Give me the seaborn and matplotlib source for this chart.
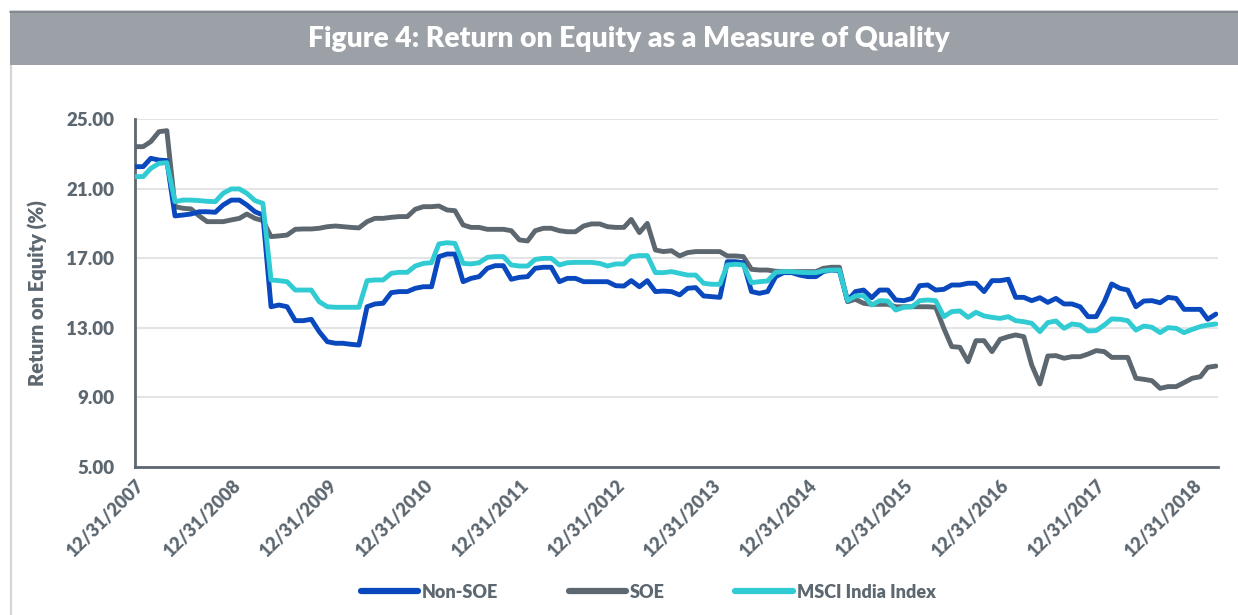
import numpy as np
import pandas as pd
import matplotlib
matplotlib.use("Agg")
import matplotlib.pyplot as plt
import matplotlib.dates as mdates
from matplotlib.patches import Rectangle
from matplotlib.lines import Line2D
import seaborn as sns

# Monthly return on equity (%), Dec 2007 - Mar 2019
dates = pd.date_range("2007-12-31", periods=136, freq="ME")

non_soe = [
    22.26, 22.26, 22.74, 22.64, 22.61, 19.43, 19.48, 19.54, 19.67, 19.67,
    19.64, 20.06, 20.34, 20.34, 20.06, 19.67, 19.48, 14.21, 14.31, 14.21,
    13.41, 13.41, 13.49, 12.78, 12.20, 12.11, 12.11, 12.05, 12.01, 14.21,
    14.37, 14.41, 15.02, 15.08, 15.08, 15.27, 15.36, 15.36, 17.09, 17.24,
    17.24, 15.65, 15.84, 15.94, 16.42, 16.57, 16.57, 15.79, 15.90, 15.94,
    16.42, 16.48, 16.48, 15.65, 15.84, 15.84, 15.65, 15.65, 15.65, 15.65,
    15.42, 15.40, 15.71, 15.36, 15.71, 15.08, 15.11, 15.08, 14.89, 15.27,
    15.31, 14.83, 14.79, 14.75, 16.80, 16.80, 16.74, 15.08, 14.98, 15.08,
    15.94, 16.17, 16.17, 16.03, 15.94, 15.94, 16.23, 16.32, 16.28, 14.56,
    15.08, 15.17, 14.73, 15.17, 15.17, 14.60, 14.56, 14.69, 15.42, 15.46,
    15.17, 15.21, 15.46, 15.46, 15.56, 15.56, 15.08, 15.71, 15.71, 15.79,
    14.75, 14.75, 14.56, 14.73, 14.46, 14.69, 14.37, 14.37, 14.21, 13.64,
    13.64, 14.50, 15.52, 15.27, 15.17, 14.21, 14.54, 14.56, 14.44, 14.75,
    14.69, 14.06, 14.06, 14.06, 13.49, 13.79,
]

soe = [
    23.41, 23.41, 23.70, 24.27, 24.33, 19.96, 19.87, 19.83, 19.43, 19.10,
    19.10, 19.10, 19.20, 19.29, 19.54, 19.29, 19.16, 18.24, 18.28, 18.33,
    18.66, 18.68, 18.68, 18.72, 18.81, 18.85, 18.81, 18.77, 18.74, 19.10,
    19.29, 19.29, 19.35, 19.39, 19.39, 19.81, 19.96, 19.96, 20.00, 19.77,
    19.73, 18.91, 18.77, 18.77, 18.66, 18.66, 18.66, 18.58, 18.05, 17.99,
    18.58, 18.72, 18.72, 18.58, 18.52, 18.52, 18.85, 18.97, 18.97, 18.81,
    18.77, 18.77, 19.23, 18.47, 19.00, 17.47, 17.38, 17.43, 17.13, 17.32,
    17.38, 17.38, 17.38, 17.38, 17.13, 17.13, 17.09, 16.36, 16.32, 16.32,
    16.25, 16.23, 16.23, 16.23, 16.23, 16.23, 16.42, 16.48, 16.48, 14.50,
    14.64, 14.41, 14.35, 14.35, 14.35, 14.21, 14.21, 14.21, 14.21, 14.21,
    14.18, 12.97, 11.92, 11.88, 11.05, 12.26, 12.26, 11.63, 12.34, 12.49,
    12.59, 12.49, 10.86, 9.77, 11.38, 11.40, 11.25, 11.34, 11.34, 11.49,
    11.69, 11.63, 11.30, 11.30, 11.30, 10.10, 10.04, 9.96, 9.52, 9.62,
    9.62, 9.85, 10.10, 10.19, 10.73, 10.80,
]

msci_india = [
    21.69, 21.69, 22.16, 22.45, 22.49, 20.25, 20.34, 20.34, 20.31, 20.27,
    20.25, 20.73, 20.98, 20.98, 20.73, 20.31, 20.15, 15.75, 15.71, 15.65,
    15.17, 15.17, 15.17, 14.50, 14.21, 14.18, 14.18, 14.18, 14.18, 15.71,
    15.75, 15.75, 16.13, 16.19, 16.19, 16.55, 16.70, 16.74, 17.82, 17.89,
    17.85, 16.70, 16.67, 16.74, 17.05, 17.09, 17.09, 16.61, 16.55, 16.55,
    16.93, 16.99, 16.99, 16.61, 16.74, 16.76, 16.76, 16.76, 16.70, 16.55,
    16.67, 16.67, 17.09, 17.15, 17.15, 16.17, 16.17, 16.23, 16.13, 16.03,
    16.03, 15.56, 15.50, 15.50, 16.61, 16.65, 16.61, 15.59, 15.65, 15.69,
    16.19, 16.23, 16.23, 16.19, 16.17, 16.17, 16.28, 16.32, 16.32, 14.56,
    14.83, 14.85, 14.31, 14.56, 14.54, 14.02, 14.18, 14.21, 14.56, 14.60,
    14.56, 13.64, 13.93, 13.97, 13.60, 13.89, 13.68, 13.60, 13.54, 13.64,
    13.41, 13.35, 13.26, 12.78, 13.30, 13.39, 12.97, 13.22, 13.16, 12.82,
    12.84, 13.16, 13.51, 13.49, 13.41, 12.87, 13.10, 13.03, 12.72, 13.01,
    12.97, 12.72, 12.91, 13.07, 13.16, 13.22,
]

series_names = ["Non-SOE", "SOE", "MSCI India Index"]
y_ticks = [5, 9, 13, 17, 21, 25]
x_tick_dates = pd.date_range("2007-12-31", "2018-12-31", freq="YE")

colors = {"Non-SOE": "#0a48bd", "SOE": "#5d6770", "MSCI India Index": "#31cbd3"}
text_grey = "#5d6770"

df = pd.DataFrame({"Date": dates, "Non-SOE": non_soe, "SOE": soe,
                   "MSCI India Index": msci_india})
long = df.melt(id_vars="Date", var_name="Series", value_name="ROE")

sns.set_theme(style="white")
plt.rcParams["font.family"] = ["Lato", "DejaVu Sans"]

W, H = 1238, 615
fig = plt.figure(figsize=(W / 100, H / 100), dpi=100)

# outer frame and title band
fig.patches.append(Rectangle((11 / W, -0.01), 1.0, (H - 11) / H + 0.01,
                             transform=fig.transFigure, facecolor="white",
                             edgecolor="#d3d6d9", lw=1.6, zorder=-5))
fig.patches.append(Rectangle((10 / W, 1 - 65 / H), 1.0, 54 / H,
                             transform=fig.transFigure, facecolor="#9ca1a7",
                             edgecolor="none", zorder=1))
fig.add_artist(Line2D([10 / W, 1.0], [1 - 11.5 / H, 1 - 11.5 / H],
                      transform=fig.transFigure, color="#7d8389", lw=1.2, zorder=2))
fig.text((10 + W) / 2 / W + 0.004, 1 - 39 / H,
         "Figure 4: Return on Equity as a Measure of Quality",
         ha="center", va="center", color="white", fontsize=20.3,
         fontweight="heavy", zorder=3)

ax = fig.add_axes([135 / W, 1 - 467 / H, (1218 - 135) / W, 348 / H])
ax.set_facecolor("none")

# SOE underneath, index on top
for name, z in [("SOE", 3), ("Non-SOE", 4), ("MSCI India Index", 5)]:
    sns.lineplot(data=long[long["Series"] == name], x="Date", y="ROE",
                 color=colors[name], lw=3.5, ax=ax, zorder=z, legend=False)

ax.set_ylim(5, 25)
ax.set_yticks(y_ticks)
ax.set_yticklabels([f"{v:.2f}" for v in y_ticks])
ax.set_xlim(dates[0], dates[-1] + pd.Timedelta(days=8))
ax.set_xticks(x_tick_dates)
ax.set_xticklabels([d.strftime("%m/%d/%Y") for d in x_tick_dates])

ax.grid(axis="y", color="#e3e4e6", lw=1.5, zorder=0)
ax.grid(axis="x", visible=False)
for s in ["top", "right"]:
    ax.spines[s].set_visible(False)
for s in ["left", "bottom"]:
    ax.spines[s].set_color("#5d6770")
    ax.spines[s].set_linewidth(2)

ax.tick_params(axis="y", length=0, pad=15, labelsize=13.5, labelcolor=text_grey)
ax.tick_params(axis="x", length=0, pad=7, labelsize=13, labelcolor=text_grey)
for lbl in ax.get_yticklabels():
    lbl.set_fontweight("heavy")
for lbl in ax.get_xticklabels():
    lbl.set_fontweight("heavy")
    lbl.set_rotation(45)
    lbl.set_ha("right")
    lbl.set_va("top")
    lbl.set_rotation_mode("anchor")

ax.set_xlabel("")
ax.set_ylabel("Return on Equity (%)", color=text_grey, fontsize=14.5,
              fontweight="heavy", labelpad=13)

handles = [Line2D([], [], color=colors[n], lw=4.5, solid_capstyle="round")
           for n in series_names]
fig.legend(handles, series_names, loc="center", ncol=3, frameon=False,
           bbox_to_anchor=(648 / W, 1 - 592 / H), handlelength=3.2,
           handletextpad=0.2, columnspacing=3.9,
           prop={"size": 13, "weight": "heavy"}, labelcolor=text_grey)

fig.savefig("out.png", dpi=100)
